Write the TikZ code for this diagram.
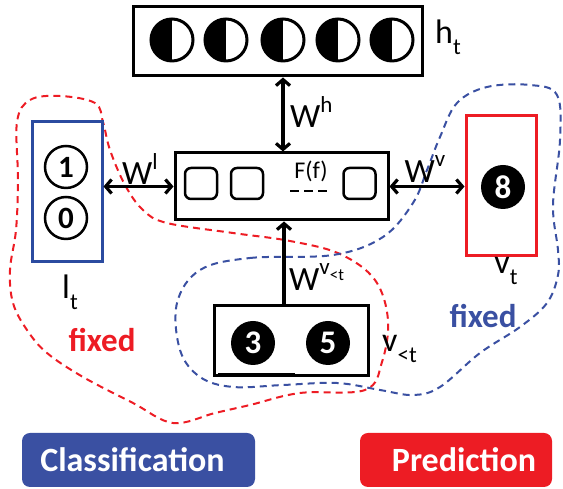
\documentclass[tikz,border=0pt]{standalone}
\usepackage{fontspec}
\setmainfont{Carlito}
\usetikzlibrary{arrows.meta}
\definecolor{myblue}{HTML}{3A50A2}
\definecolor{myred}{HTML}{ED1C24}
\definecolor{lblue}{HTML}{2B4BA0}
\newcommand\lsub[1]{\raisebox{-0.32em}{\fontsize{23}{23}\selectfont #1}}
\newcommand\lsup[1]{\raisebox{0.45em}{\fontsize{23}{23}\selectfont #1}}
\newcommand\ssub[1]{\raisebox{-0.25em}{\fontsize{17}{17}\selectfont #1}}
\begin{document}
\begin{tikzpicture}[x=1pt,y=1pt,
  >={Straight Barb[length=6pt,width=14pt]},
  box/.style={draw, line width=3pt, inner sep=0},
  hc/.style={circle, draw, line width=3pt, minimum size=42pt, inner sep=0,
    path picture={\fill (path picture bounding box.south) rectangle (path picture bounding box.north west);}},
  dcirc/.style={circle, draw, line width=2.5pt, minimum size=42pt, inner sep=0, font=\bfseries\fontsize{31}{31}\selectfont},
  ball/.style={circle, fill=black, text=white, minimum size=44pt, inner sep=0, font=\bfseries\fontsize{33}{33}\selectfont},
  rsq/.style={draw, line width=2.5pt, rounded corners=6pt, minimum width=32pt, minimum height=31pt, inner sep=0},
  lab/.style={inner sep=0, font=\fontsize{34}{36}\selectfont},
  arr/.style={line width=3.2pt},
  fixedlab/.style={inner sep=0, font=\bfseries\fontsize{33}{36}\selectfont},
  btn/.style={rounded corners=8pt, minimum height=54pt, inner sep=0, text=white, font=\bfseries\fontsize{34}{34}\selectfont},
  dashline/.style={line width=2pt, dash pattern=on 7pt off 5pt}
]
\useasboundingbox (0,0) rectangle (563,489);

% dashed regions
\draw[dashline, myred] plot[smooth cycle, tension=0.6] coordinates {
 (17,367) (30,389) (60,393) (95,386) (103,367) (110,339) (125,304) (143,279) (167,266)
 (233,256) (290,248) (340,235) (375,209) (388,169) (382,127) (365,99) (300,96) (250,84)
 (215,76) (173,66) (133,86) (83,112) (47,136) (27,159) (13,186) (10,219) (16,259) (18,309)};
\draw[dashline, myblue] plot[smooth cycle, tension=0.6] coordinates {
 (200,219) (250,231) (333,234) (383,252) (413,286) (427,319) (440,352) (457,386) (487,402)
 (530,404) (557,394) (560,349) (553,284) (558,239) (558,214) (547,186) (520,162) (480,136)
 (440,102) (413,94) (380,99) (337,106) (283,104) (233,102) (200,112) (180,139) (177,186)};

% h box
\node[box, minimum width=289pt, minimum height=69pt, fill=white] (hbox) at (277.5,447.5) {};
\node[hc] (h1) at (172,449) {};
\node[hc] (h2) at (226,449) {};
\node[hc] (h3) at (283,449) {};
\node[hc] (h4) at (338,449) {};
\node[hc] (h5) at (392,449) {};
\node[lab, anchor=west] (ht) at (435,452) {h\lsub{t}};

% F box
\node[box, minimum width=213pt, minimum height=67pt, fill=white] (F) at (281.5,302.5) {};
\node[rsq] (s1) at (201,305.5) {};
\node[rsq] (s2) at (247,305.5) {};
\node[rsq] (s3) at (359.5,305.5) {};
\coordinate (d1) at (290,298);
\coordinate (d2) at (328,298);
\draw[line width=2.5pt, dash pattern=on 9pt off 5pt] (d1) -- (d2);
\node[inner sep=0, font=\fontsize{24}{24}\selectfont] (Ff) at (311,318) {F(f)};

% l box
\node[draw=lblue, line width=3pt, minimum width=70pt, minimum height=140pt, inner sep=0, fill=white] (lbox) at (67,297) {};
\node[dcirc] (c1) at (66,322) {1};
\node[dcirc] (c0) at (66,271) {0};
\node[lab] (lt) at (70,197) {l\lsub{t}};

% v box
\node[draw=myred, line width=3pt, minimum width=70pt, minimum height=140pt, inner sep=0, fill=white] (vbox) at (501,303) {};
\node[ball] (b8) at (503,302) {8};
\node[lab] (vt) at (506,218) {v\lsub{t}};

% v<t box
\node[box, minimum width=154pt, minimum height=70pt, fill=white] (vlt) at (291,148) {};
\node[ball] (b3) at (253,146) {3};
\node[ball] (b5) at (328,146) {5};
\coordinate (u1) at (218,114);
\coordinate (u2) at (295,114);
\draw[line width=4.5pt] (u1) -- (u2);
\node[lab, anchor=west] (vltl) at (382,140) {v\lsub{<t}};

% arrows
\draw[arr, <->] (h3 |- hbox.south) -- (h3 |- F.north);
\node[lab, anchor=west] (Wh) at (290,377) {W\lsup{h}};
\coordinate (ax) at (284,0);
\draw[arr, ->] (ax |- vlt.north) -- (ax |- F.south);
\node[lab, anchor=west] (Wv2) at (289,212) {W\raisebox{0.45em}{\fontsize{23}{23}\selectfont v\ssub{<t}}};
\draw[arr, <->] (lbox.east |- F.west) -- (F.west);
\node[lab] (Wl) at (140,320) {W\lsup{l}};
\draw[arr, <->] (F.east) -- (vbox.west |- F.east);
\node[lab] (Wv) at (425,320) {W\lsup{v}};

% fixed labels
\node[fixedlab, text=myred] (fx1) at (102,149) {fixed};
\node[fixedlab, text=myblue] (fx2) at (483,173) {fixed};

% buttons
\node[btn, fill=myblue, minimum width=233pt] (cls) at (138.5,29) {\hspace*{-12pt}Classification};
\node[btn, fill=myred, minimum width=192pt] (pred) at (456,29) {\hspace*{16pt}Prediction};
\end{tikzpicture}
\end{document}
